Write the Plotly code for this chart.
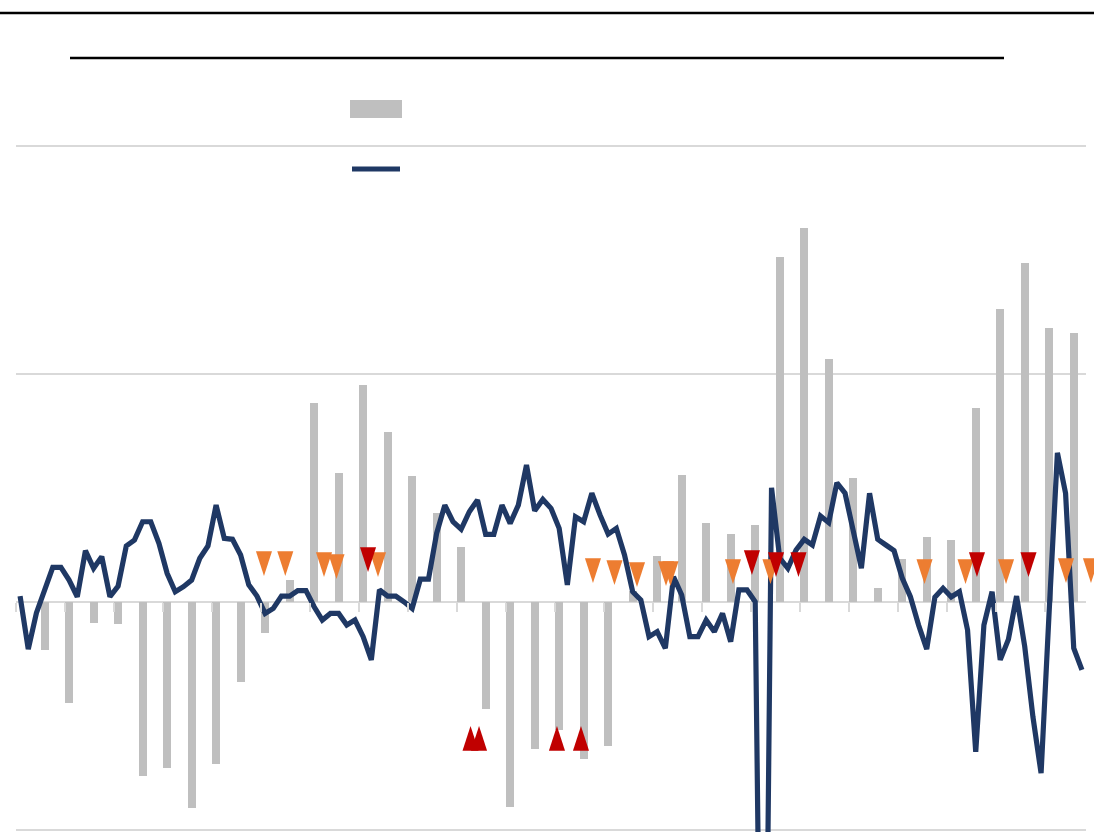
import plotly.graph_objects as go

# ---------------- data ----------------
# monthly line series, months 0..130
line_months = list(range(131))
line_values = [
    0.26, -2.07, -0.48, 0.53, 1.52, 1.52, 0.96, 0.23, 2.25, 1.48,
    1.99, 0.23, 0.70, 2.46, 2.72, 3.52, 3.52, 2.57, 1.26, 0.45,
    0.67, 0.96, 1.92, 2.46, 4.25, 2.79, 2.75, 2.06, 0.75, 0.26,
    -0.50, -0.28, 0.26, 0.26, 0.50, 0.50, -0.21, -0.79, -0.50, -0.50,
    -1.01, -0.79, -1.52, -2.54, 0.53, 0.26, 0.26, 0.01, -0.28, 1.00,
    1.00, 3.01, 4.25, 3.52, 3.19, 3.96, 4.47, 2.97, 2.97, 4.25,
    3.45, 4.25, 6.01, 4.00, 4.50, 4.11, 3.23, 0.75, 3.74, 3.52,
    4.77, 3.82, 2.98, 3.23, 2.06, 0.45, 0.09, -1.52, -1.30, -2.03,
    1.11, 0.31, -1.52, -1.52, -0.79, -1.30, -0.50, -1.74, 0.53, 0.53,
    0.01, -30.0, 5.01, 1.93, 1.48, 2.28, 2.75, 2.50, 3.77, 3.48,
    5.23, 4.77, 3.23, 1.48, 4.77, 2.75, 2.50, 2.25, 1.05, 0.23,
    -1.01, -2.07, 0.21, 0.60, 0.22, 0.45, -1.23, -6.57, -1.01, 0.45,
    -2.54, -1.64, 0.26, -1.96, -5.03, -7.51, -0.35, 6.54, 4.77, -2.03,
    -2.98,
]

# quarterly bars (quarter-end months 3, 6, ..., 129)
bar_months = [3, 6, 9, 12, 15, 18, 21, 24, 27, 30, 33, 36, 39, 42, 45,
              48, 51, 54, 57, 60, 63, 66, 69, 72, 75, 78, 81, 84, 87, 90,
              93, 96, 99, 102, 105, 108, 111, 114, 117, 120, 123, 126, 129]
bar_values = [
    -2.1, -4.43, -0.9, -0.95, -7.63, -7.3, -9.04, -7.1, -3.5, -1.36,
    0.96, 8.73, 5.64, 9.52, 7.44, 5.53, 3.92, 2.43, -4.7, -8.98,
    -6.43, -5.6, -6.9, -6.3, 0.5, 2.03, 5.58, 3.45, 2.97, 3.38,
    15.13, 16.4, 10.66, 5.45, 0.63, 1.9, 2.84, 2.7, 8.5, 12.86,
    14.87, 12.0, 11.8,
]

# event markers
orange_down_x = [29.86, 32.47, 37.21, 38.74, 43.82, 70.14, 72.77, 75.53, 79.08,
                 79.63, 87.28, 91.87, 110.73, 115.75, 120.71, 128.05, 131.11]
orange_down_y = [1.14, 1.14, 1.10, 1.01, 1.10, 0.83, 0.75, 0.66, 0.70,
                 0.70, 0.79, 0.79, 0.79, 0.79, 0.79, 0.83, 0.83]
red_down_x = [42.6, 89.6, 92.55, 95.3, 117.15, 123.46]
red_down_y = [1.32, 1.18, 1.10, 1.10, 1.10, 1.10]
red_up_x = [55.15, 56.19, 65.73, 68.67]
red_up_y = [-5.44, -5.44, -5.44, -5.44]

# ---------------- styling ----------------
NAVY = "#1F3864"
GRAY = "#BFBFBF"
ORANGE = "#ED7D31"
RED = "#C00000"
GRID = "#D9D9D9"

W, H = 1094, 832
ML, MR, MT, MB = 16, 0, 140, 0
MAIN_RIGHT_PX = 1086          # right edge of the main plotting area
PX_PER_UNIT = 22.8
ZERO_PX = 602
Y_MAX = (ZERO_PX - MT) / PX_PER_UNIT
Y_MIN = -(H - MB - ZERO_PX) / PX_PER_UNIT
X_RANGE = [-0.5, 130.5]
PX_PER_MONTH = (MAIN_RIGHT_PX - ML) / (X_RANGE[1] - X_RANGE[0])
FULL_W = W - ML - MR
X2_RANGE = [X_RANGE[0], X_RANGE[0] + FULL_W / PX_PER_MONTH]
MAIN_DOMAIN_END = (MAIN_RIGHT_PX - ML) / FULL_W


def fx(px):
    return (px - ML) / FULL_W


def fy(py):
    return (H - MB - py) / (H - MT - MB)


fig = go.Figure()
fig.add_trace(go.Bar(x=bar_months, y=bar_values, width=1.0,
                     marker=dict(color=GRAY, line=dict(width=0)),
                     showlegend=False, hoverinfo="skip"))
fig.add_trace(go.Scatter(x=line_months, y=line_values, mode="lines",
                         line=dict(color=NAVY, width=5.2),
                         showlegend=False, hoverinfo="skip"))
marker_common = dict(mode="markers", cliponaxis=False, showlegend=False,
                     hoverinfo="skip", xaxis="x2", yaxis="y2")
fig.add_trace(go.Scatter(x=orange_down_x, y=orange_down_y,
                         marker=dict(symbol="arrow", angle=180, size=26,
                                     color=ORANGE, line=dict(width=0)),
                         **marker_common))
fig.add_trace(go.Scatter(x=red_down_x, y=red_down_y,
                         marker=dict(symbol="arrow", angle=180, size=26,
                                     color=RED, line=dict(width=0)),
                         **marker_common))
fig.add_trace(go.Scatter(x=red_up_x, y=red_up_y,
                         marker=dict(symbol="arrow", angle=0, size=26,
                                     color=RED, line=dict(width=0)),
                         **marker_common))

zero_pos = (0 - Y_MIN) / (Y_MAX - Y_MIN)

shapes = [
    # header rules
    dict(type="line", xref="paper", yref="paper", x0=fx(0), x1=fx(W), y0=fy(13), y1=fy(13),
         line=dict(color="black", width=2.5)),
    dict(type="line", xref="paper", yref="paper", x0=fx(70), x1=fx(1004), y0=fy(58), y1=fy(58),
         line=dict(color="black", width=2.5)),
    # legend swatches
    dict(type="rect", xref="paper", yref="paper", x0=fx(350), x1=fx(402), y0=fy(118), y1=fy(100),
         fillcolor=GRAY, line=dict(width=0)),
    dict(type="line", xref="paper", yref="paper", x0=fx(352), x1=fx(400), y0=fy(169), y1=fy(169),
         line=dict(color=NAVY, width=5)),
]

fig.update_layout(
    width=W, height=H,
    margin=dict(l=ML, r=MR, t=MT, b=MB),
    plot_bgcolor="rgba(0,0,0,0)", paper_bgcolor="white",
    showlegend=False, bargap=0,
    shapes=shapes,
    xaxis=dict(domain=[0, MAIN_DOMAIN_END], range=X_RANGE, anchor="free", position=zero_pos,
               tickmode="linear", tick0=-0.5, dtick=6,
               ticks="outside", ticklen=9, tickwidth=1.5, tickcolor=GRID,
               showticklabels=False, showgrid=False, zeroline=False, showline=False),
    yaxis=dict(range=[Y_MIN, Y_MAX], tickmode="linear", tick0=0, dtick=10,
               showgrid=True, gridcolor=GRID, gridwidth=1.7,
               zeroline=True, zerolinecolor=GRID, zerolinewidth=1.8,
               showticklabels=False, ticks="", showline=False),
    xaxis2=dict(domain=[0, 1], range=X2_RANGE, anchor="y2", visible=False,
                showgrid=False, zeroline=False),
    yaxis2=dict(domain=[0, 1], range=[Y_MIN, Y_MAX], anchor="x2", visible=False,
                showgrid=False, zeroline=False),
)

fig.write_html("out.html",
               config={"displayModeBar": False},
               post_script="document.body.style.margin='0';document.body.style.overflow='hidden';")
